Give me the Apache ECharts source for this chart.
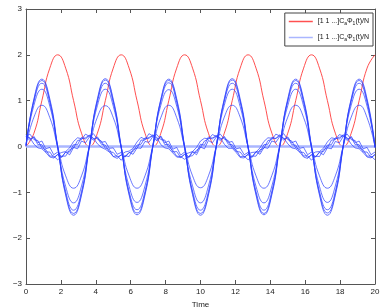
<!DOCTYPE html>
<html><head><meta charset="utf-8">
<script src="https://cdn.jsdelivr.net/npm/echarts@6/dist/echarts.min.js"></script>
<style>html,body{margin:0;padding:0;background:#fff}#c{width:382px;height:307px}</style>
</head><body><div id="c"></div>
<script>
// time grids (coarse for smooth curves, fine for wiggly ones)
const tCoarse = [0,0.455,0.909,1.364,1.818,2.273,2.727,3.182,3.636,4.091,4.545,5,5.455,5.909,6.364,6.818,7.273,7.727,8.182,8.636,9.091,9.545,10,10.455,10.909,11.364,11.818,12.273,12.727,13.182,13.636,14.091,14.545,15,15.455,15.909,16.364,16.818,17.273,17.727,18.182,18.636,19.091,19.545,20];
const tFine = [0,0.227,0.455,0.682,0.909,1.136,1.364,1.591,1.818,2.045,2.273,2.5,2.727,2.955,3.182,3.409,3.636,3.864,4.091,4.318,4.545,4.773,5,5.227,5.455,5.682,5.909,6.136,6.364,6.591,6.818,7.045,7.273,7.5,7.727,7.955,8.182,8.409,8.636,8.864,9.091,9.318,9.545,9.773,10,10.227,10.455,10.682,10.909,11.136,11.364,11.591,11.818,12.045,12.273,12.5,12.727,12.955,13.182,13.409,13.636,13.864,14.091,14.318,14.545,14.773,15,15.227,15.455,15.682,15.909,16.136,16.364,16.591,16.818,17.045,17.273,17.5,17.727,17.955,18.182,18.409,18.636,18.864,19.091,19.318,19.545,19.773,20];

const redVals = [0,0.29,1,1.71,2,1.71,1,0.29, 0,0.29,1,1.71,2,1.71,1,0.29, 0,0.29,1,1.71,2,1.71,1,0.29, 0,0.29,1,1.71,2,1.71,1,0.29, 0,0.29,1,1.71,2,1.71,1,0.29, 0,0.29,1,1.71,2];

const big1 = [0,1.04,1.47,1.04,0,-1.06,-1.50,-1.06, 0,1.04,1.48,1.03,0,-1.06,-1.49,-1.06, 0,1.03,1.47,1.04,0,-1.05,-1.50,-1.06, 0,1.04,1.48,1.04,0,-1.06,-1.49,-1.05, 0,1.04,1.47,1.03,0,-1.06,-1.50,-1.06, 0,1.04,1.47,1.04,0];
const big2 = [0.02,1.02,1.44,1.00,-0.02,-1.03,-1.46,-1.03, 0.02,1.01,1.45,1.00,-0.02,-1.03,-1.45,-1.03, 0.02,1.02,1.44,1.01,-0.02,-1.02,-1.46,-1.03, 0.02,1.02,1.45,1.00,-0.02,-1.03,-1.46,-1.02, 0.02,1.01,1.44,1.00,-0.02,-1.03,-1.45,-1.03, 0.02,1.02,1.44,1.00,-0.02];
const big3 = [0.03,0.98,1.38,0.96,-0.03,-0.98,-1.39,-0.98, 0.03,0.97,1.38,0.96,-0.03,-0.98,-1.38,-0.98, 0.03,0.98,1.39,0.96,-0.03,-0.97,-1.39,-0.98, 0.03,0.98,1.38,0.97,-0.03,-0.98,-1.39,-0.97, 0.03,0.98,1.38,0.96,-0.03,-0.98,-1.38,-0.98, 0.03,0.98,1.38,0.96,-0.03];
const big4 = [0.02,0.90,1.25,0.88,-0.02,-0.87,-1.23,-0.86, 0.02,0.89,1.25,0.88,-0.02,-0.87,-1.22,-0.86, 0.02,0.90,1.24,0.88,-0.02,-0.86,-1.23,-0.86, 0.02,0.90,1.25,0.87,-0.02,-0.87,-1.23,-0.86, 0.02,0.89,1.25,0.88,-0.02,-0.87,-1.22,-0.86, 0.02,0.90,1.25,0.88,-0.02];
const big5 = [0.01,0.64,0.90,0.63,-0.01,-0.64,-0.91,-0.64, 0.01,0.64,0.89,0.63,-0.01,-0.64,-0.91,-0.64, 0.01,0.63,0.90,0.63,-0.01,-0.64,-0.90,-0.64, 0.01,0.64,0.90,0.64,-0.01,-0.64,-0.91,-0.63, 0.01,0.64,0.90,0.63,-0.01,-0.64,-0.91,-0.64, 0.01,0.64,0.90,0.63,-0.01];

const small1 = [0.26,0.16,0.20,0.04,0.04,-0.12,-0.12,-0.24,-0.18,-0.24,-0.12,-0.12,0.04,0.04,0.20,0.16,
 0.25,0.17,0.19,0.05,0.03,-0.11,-0.13,-0.23,-0.19,-0.23,-0.13,-0.11,0.03,0.05,0.19,0.17,
 0.26,0.15,0.21,0.04,0.05,-0.12,-0.11,-0.24,-0.17,-0.25,-0.12,-0.13,0.05,0.03,0.21,0.16,
 0.25,0.16,0.20,0.05,0.04,-0.11,-0.12,-0.23,-0.18,-0.24,-0.11,-0.12,0.04,0.05,0.20,0.17,
 0.26,0.17,0.19,0.04,0.03,-0.12,-0.13,-0.24,-0.19,-0.23,-0.12,-0.11,0.03,0.04,0.19,0.16,
 0.26,0.16,0.20,0.04,0.04,-0.12,-0.12,-0.24,-0.18];
const small2 = [0.23,0.27,0.15,0.13,-0.03,-0.07,-0.21,-0.21,-0.29,-0.21,-0.21,-0.07,-0.03,0.13,0.15,0.27,
 0.22,0.28,0.16,0.12,-0.04,-0.06,-0.22,-0.20,-0.30,-0.20,-0.22,-0.06,-0.04,0.14,0.14,0.28,
 0.23,0.26,0.15,0.14,-0.02,-0.08,-0.21,-0.22,-0.28,-0.22,-0.20,-0.08,-0.02,0.12,0.16,0.26,
 0.22,0.27,0.16,0.13,-0.03,-0.07,-0.22,-0.21,-0.29,-0.21,-0.21,-0.07,-0.04,0.13,0.15,0.27,
 0.23,0.28,0.15,0.12,-0.03,-0.06,-0.21,-0.20,-0.30,-0.21,-0.22,-0.07,-0.03,0.14,0.15,0.26,
 0.23,0.27,0.15,0.13,-0.03,-0.07,-0.21,-0.21,-0.29];
const small3 = [0.22,0.13,0.22,0.08,0.12,-0.05,-0.02,-0.18,-0.12,-0.23,-0.12,-0.18,-0.02,-0.05,0.12,0.08,
 0.21,0.14,0.21,0.09,0.11,-0.04,-0.03,-0.17,-0.13,-0.22,-0.13,-0.17,-0.03,-0.04,0.11,0.09,
 0.22,0.12,0.23,0.08,0.12,-0.06,-0.02,-0.19,-0.12,-0.23,-0.11,-0.18,-0.01,-0.05,0.13,0.08,
 0.21,0.13,0.22,0.09,0.11,-0.05,-0.03,-0.18,-0.13,-0.22,-0.12,-0.17,-0.02,-0.04,0.12,0.09,
 0.22,0.14,0.21,0.08,0.12,-0.04,-0.02,-0.18,-0.12,-0.23,-0.13,-0.18,-0.03,-0.05,0.11,0.08,
 0.22,0.13,0.22,0.08,0.12,-0.05,-0.02,-0.18,-0.12];
const small4 = [0.23,0.19,0.05,-0.03,-0.05,-0.13,-0.23,-0.25,-0.17,-0.13,-0.11,-0.03,0.11,0.19,0.17,0.19,
 0.24,0.18,0.06,-0.02,-0.06,-0.12,-0.22,-0.26,-0.18,-0.12,-0.10,-0.04,0.10,0.20,0.16,0.20,
 0.23,0.20,0.04,-0.03,-0.05,-0.14,-0.23,-0.24,-0.17,-0.14,-0.11,-0.02,0.12,0.18,0.17,0.19,
 0.22,0.19,0.05,-0.04,-0.04,-0.13,-0.24,-0.25,-0.16,-0.13,-0.12,-0.03,0.11,0.19,0.18,0.18,
 0.23,0.18,0.06,-0.03,-0.05,-0.12,-0.23,-0.26,-0.17,-0.12,-0.11,-0.04,0.10,0.19,0.17,0.20,
 0.23,0.19,0.05,-0.03,-0.05,-0.13,-0.23,-0.25,-0.17];

const zeroT = [0, 20];
const zeroVals = [0, 0];

const xTicks = [0,2,4,6,8,10,12,14,16,18,20];
const yTicks = [-3,-2,-1,0,1,2,3];
const legendText = '{n|[1 1 ...]C}{s|a}{n|Φ}{s|1}{n|(t)/N}';

function pairs(t, v){ return v.map((y,i)=>[t[i], y]); }

const chart = echarts.init(document.getElementById('c'), null, {renderer:'canvas'});
const FONT = 'Liberation Sans, Arial, sans-serif';
const axisCol = '#555';
const blue = 'rgba(40,60,255,0.78)';

const blueLine = (name, data, smooth) => ({
  name, type:'line', data, symbol:'none', smooth: smooth ? 0.5 : false,
  lineStyle:{color:blue, width:0.9}, itemStyle:{color:blue}, silent:true, z:3
});

const frameAxis = (pos) => ({
  axisLine:{onZero:false, lineStyle:{color:axisCol, width:1}},
  axisTick:{inside:true, length:4, lineStyle:{color:axisCol}},
  splitLine:{show:false}, position:pos
});

chart.setOption({
  animation:false,
  textStyle:{fontFamily:FONT},
  grid:{left:26, right:7, top:9, bottom:23, containLabel:false, outerBoundsMode:'none'},
  legend:{
    data:[{name:'red', icon:'rect', itemStyle:{color:'#ff5050'}},
          {name:'blue', icon:'rect', itemStyle:{color:'#aab6ff'}}],
    orient:'vertical', right:9, top:13,
    backgroundColor:'#fff', borderColor:'#444', borderWidth:1, padding:[5,4,4,4],
    itemWidth:24, itemHeight:1.5, itemGap:8,
    formatter: () => legendText,
    textStyle:{fontFamily:FONT, color:'#111', rich:{
      n:{fontSize:7, fontFamily:FONT, color:'#111', verticalAlign:'middle'},
      s:{fontSize:5, fontFamily:FONT, color:'#111', verticalAlign:'bottom', padding:[4,0,0,0]}
    }}
  },
  xAxis:[Object.assign(frameAxis('bottom'), {
    type:'value', min:0, max:20, interval:2,
    axisLabel:{fontSize:8, color:'#222', margin:4, fontFamily:FONT},
    name:'Time', nameLocation:'middle', nameGap:11,
    nameTextStyle:{fontSize:8, color:'#222', fontFamily:FONT}
  }), Object.assign(frameAxis('top'), {
    type:'value', min:0, max:20, interval:2, axisLabel:{show:false}
  })],
  yAxis:[Object.assign(frameAxis('left'), {
    type:'value', min:-3, max:3, interval:1,
    axisLabel:{fontSize:8, color:'#222', margin:4, fontFamily:FONT,
      formatter:v=>String(v).replace('-','\u2212')},
    name:'zo', nameLocation:'middle', nameGap:14,
    nameTextStyle:{fontSize:8, color:'#222', fontFamily:FONT}
  }), Object.assign(frameAxis('right'), {
    type:'value', min:-3, max:3, interval:1, axisLabel:{show:false}
  })],
  series:[
    {name:'red', type:'line', data:pairs(tCoarse, redVals), symbol:'none', smooth:0.5,
     lineStyle:{color:'#ff3b3b', width:0.9}, itemStyle:{color:'#ff3b3b'}, z:2},
    {name:'blue', type:'line', data:pairs(zeroT, zeroVals), symbol:'none',
     lineStyle:{color:'#aab6ff', width:2.5}, itemStyle:{color:'#aab6ff'}, z:2},
    blueLine('b1', pairs(tCoarse, big1), true),
    blueLine('b2', pairs(tCoarse, big2), true),
    blueLine('b3', pairs(tCoarse, big3), true),
    blueLine('b4', pairs(tCoarse, big4), true),
    blueLine('b5', pairs(tCoarse, big5), true),
    blueLine('s1', pairs(tFine, small1), false),
    blueLine('s2', pairs(tFine, small2), false),
    blueLine('s3', pairs(tFine, small3), false),
    blueLine('s4', pairs(tFine, small4), false)
  ]
});
</script></body></html>
